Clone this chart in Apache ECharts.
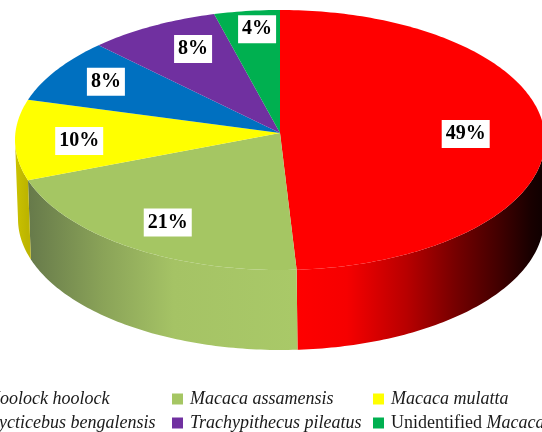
<!DOCTYPE html>
<html>
<head>
<meta charset="utf-8">
<style>
  html, body { margin: 0; padding: 0; background: #fff; }
  #chart { width: 542px; height: 432px; }
</style>
</head>
<body>
<div id="chart"></div>
<script src="https://cdn.jsdelivr.net/npm/echarts@6/dist/echarts.min.js"></script>
<script>
const species = ['Hoolock hoolock', 'Macaca assamensis', 'Macaca mulatta', 'Nycticebus bengalensis', 'Trachypithecus pileatus', 'Unidentified Macaca']
const shares = [49, 21, 10, 8, 8, 4]

const TOP_COLORS = ['#ff0000', '#a5c663', '#ffff00', '#0070c0', '#7030a0', '#00b050']
const WALL_STOPS = [
  [[0.54, '#ff0000'], [0.64, '#f60000'], [0.75, '#b80000'], [0.84, '#760000'], [0.92, '#420000'], [0.98, '#180000'], [1, '#100000']],
  [[0.05, '#66794a'], [0.19, '#8aa358'], [0.32, '#a5c365'], [0.55, '#a9c968']],
  [[0.02, '#d0c800'], [0.05, '#bdb500']],
  [[0, '#0070c0'], [1, '#0070c0']],
  [[0, '#7030a0'], [1, '#7030a0']],
  [[0, '#00b050'], [1, '#00b050']],
]
// px shift of each % box from 0.72 of the way out along the slice's middle
const LABEL_NUDGE = [[-5, -3], [-5, 5], [-10, 1], [-13, -8], [5, -9], [1, -18]]

const TOP = { cx: 280, cy: 140, rx: 265, ry: 130, apexY: 133 }
const BOTTOM = { cx: 281, cy: 219, rx: 263, ry: 131 }
const SERIF = "'Liberation Serif', serif"

const total = shares.reduce((a, b) => a + b, 0)

function onEllipse(e, deg) {
  const t = deg * Math.PI / 180
  return [e.cx + e.rx * Math.sin(t), e.cy - e.ry * Math.cos(t)]
}

function arc(e, from, to) {
  const pts = []
  for (let d = from; d < to; d += 1) pts.push(onEllipse(e, d))
  pts.push(onEllipse(e, to))
  return pts
}

function renderSlice(index, api) {
  let before = 0
  for (let i = 0; i < index; i++) before += shares[i]
  const start = before / total * 360
  const end = (before + api.value(0)) / total * 360
  const children = []

  // only the front half of the rim shows a wall
  const wallFrom = Math.max(start, 90)
  const wallTo = Math.min(end, 270)
  if (wallTo > wallFrom) {
    children.push({
      type: 'polygon',
      shape: { points: arc(TOP, wallFrom, wallTo).concat(arc(BOTTOM, wallFrom, wallTo).reverse()) },
      style: {
        fill: {
          type: 'linear', x: 0, y: 0, x2: 542, y2: 0, global: true,
          colorStops: WALL_STOPS[index].map(s => ({ offset: s[0], color: s[1] })),
        },
      },
    })
  }

  children.push({
    type: 'polygon',
    shape: { points: [[TOP.cx, TOP.apexY]].concat(arc(TOP, start, end)) },
    style: { fill: TOP_COLORS[index] },
  })

  const mid = onEllipse(TOP, (start + end) / 2)
  children.push({
    type: 'text',
    z2: 10,
    x: TOP.cx + (mid[0] - TOP.cx) * 0.72 + LABEL_NUDGE[index][0],
    y: TOP.cy + (mid[1] - TOP.cy) * 0.72 + LABEL_NUDGE[index][1],
    style: {
      text: api.value(0) + '%',
      fontFamily: SERIF,
      fontWeight: 'bold',
      fontSize: 20,
      fill: '#000',
      align: 'center',
      verticalAlign: 'middle',
      backgroundColor: '#fff',
      padding: [5, 4, 3, 4],
    },
  })
  return { type: 'group', children }
}

const legendBase = {
  orient: 'vertical',
  top: 390,
  height: 60,
  padding: 0,
  icon: 'rect',
  itemWidth: 11,
  itemHeight: 11,
  itemGap: 6,
  selectedMode: false,
  formatter: name => name === 'Unidentified Macaca' ? '{n|Unidentified} {m|Macaca}' : '{i|' + name + '}',
  textStyle: {
    fontFamily: SERIF,
    fontSize: 18,
    color: '#1a1a1a',
    rich: {
      i: { fontFamily: SERIF, fontSize: 18, lineHeight: 18, fontStyle: 'italic', color: '#1a1a1a', padding: [0, 0, 0, 2] },
      m: { fontFamily: SERIF, fontSize: 18, lineHeight: 18, fontStyle: 'italic', color: '#1a1a1a' },
      n: { fontFamily: SERIF, fontSize: 18, lineHeight: 18, color: '#1a1a1a', padding: [0, 0, 0, 2] },
    },
  },
}

const chart = echarts.init(document.getElementById('chart'), null, { renderer: 'canvas' })
chart.setOption({
  animation: false,
  backgroundColor: '#fff',
  legend: [
    { ...legendBase, left: -31, data: [species[0], species[3]] },
    { ...legendBase, left: 172, data: [species[1], species[4]] },
    { ...legendBase, left: 373, data: [species[2], species[5]] },
  ],
  series: species.map((name, i) => ({
    type: 'custom',
    name,
    coordinateSystem: 'none',
    silent: true,
    itemStyle: { color: TOP_COLORS[i] },
    data: [[shares[i]]],
    renderItem: (params, api) => renderSlice(i, api),
  })),
})
</script>
</body>
</html>
